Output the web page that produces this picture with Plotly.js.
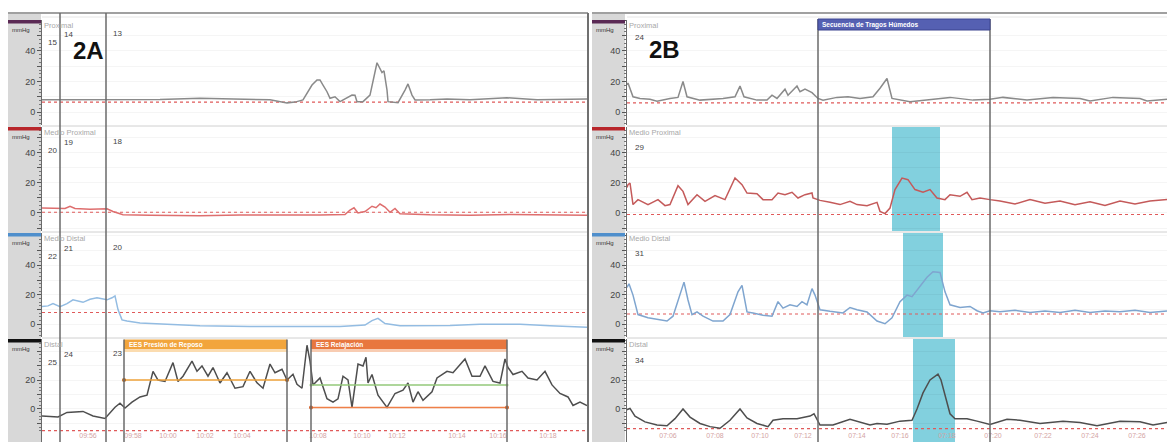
<!DOCTYPE html>
<html><head><meta charset="utf-8">
<script src="https://cdn.plot.ly/plotly-3.0.1.min.js"></script>
<style>html,body{margin:0;padding:0;background:#fff;overflow:hidden}#chart{width:1167px;height:442px}</style>
</head><body><div id="chart"></div>
<script>
// ---------- DATA (time in 0.1 s from left edge of each panel, pressure in mmHg) ----------
const channelNames = ['Proximal','Medio Proximal','Medio Distal','Distal'];

// Panel 2A
const tA_prox = [0,38,78,118,158,198,228,245,253,261,270,275,278,281,285,288,293,298,305,310,313,315,321,328,335,340,342,345,346,356,363,366,370,373,388,405,428,448,465,495,518,545];
const pA_prox = [8,8,7.8,8.2,9,8.5,8,6,6.5,7.9,17.7,21,21,17.7,13.3,9,10,6.8,9,11.1,11,6.8,6.8,11.1,32.3,25.8,27,14.4,6.8,6.1,14.4,18.4,11.1,7.9,8,8.5,8,8.5,9.4,8,8.2,8.5];
const tA_mprox = [0,13,23,28,33,48,65,71,81,108,158,198,238,278,303,308,312,316,323,330,334,338,343,348,353,358,388,428,468,508,545];
const pA_mprox = [3.4,3,3,4.5,3,2.5,2.8,1,-1.2,-1.5,-1.8,-1.3,-1.5,-1.3,-1,2,3.5,0,1,4.5,3.5,6,4,0.5,3,-0.5,-1.2,-1.5,-1,-1.2,-1.5];
const tA_mdist = [0,6,11,18,25,31,41,48,55,65,70,73,76,80,85,98,125,158,208,258,298,323,330,336,343,358,408,438,478,508,545];
const pA_mdist = [12,12.5,14,12,14,16.6,14.9,17,18,16.6,18,19.3,10,3,2.2,0.9,0,-1,-1.5,-1.5,-1.5,-0.5,2.5,4,0.5,-1,-0.8,0,0,-1,-2];
const tA_dist = [0,16,25,41,51,63,73,78,83,90,98,105,111,116,123,131,136,141,150,155,160,166,171,178,185,193,201,208,215,221,228,233,240,245,251,255,260,265,268,271,278,285,291,296,301,306,310,316,321,324,326,330,336,345,353,361,366,371,376,381,390,395,405,411,423,430,438,443,451,458,463,466,471,480,486,495,503,510,518,526,531,538,545];
const pA_dist = [-4.8,-5.5,-2.4,-1.7,-4.8,-6.5,1.2,4,0.7,4.7,8.3,9.5,26,20,19,32,19,22.6,33,26,29.7,22.6,28.6,17.9,25,14.3,15.4,26,18,14.3,31,25,27.4,20,24,17,14.3,44,33,16.6,21.4,7.1,4.7,7,22.6,20,1.1,31,29.7,35.7,17.9,23.8,9.5,1.1,10.7,13,17.9,4.7,11.9,6,11.9,21.4,26,25,34.5,22.6,22.6,29.7,19,17.9,34.5,28.6,23.8,26,21.4,20,26,16.6,10.7,8.3,2.4,4.7,2.4];
const refA = [6.5, 0.5, 8, -15];
const eventsA = [18, 64];
const eventNumsA = [['15','14','13'],['20','19','18'],['22','21','20'],['25','24','23']];
const restA = {t0:82, t1:245, level:20, label:'EES Presión de Reposo'};
const relaxA = {t0:269, t1:465, upper:16.6, lower:1, label:'EES Relajación'};
const tickValsA = [46,91,126,163,200,276,320,355,415,456,506];
const tickTextA = ['09:56','09:58','10:00','10:02','10:04','10:08','10:10','10:12','10:14','10:16','10:18'];

// Panel 2B
const tB_prox = [0,1,6,13,23,30,43,51,56,60,73,96,108,113,117,130,140,145,150,158,161,166,170,173,178,185,191,196,210,221,233,246,253,260,265,283,300,311,323,346,363,376,400,426,453,463,486,513,520,540];
const pB_prox = [17.8,19,10,8.9,8.3,7.1,8.9,9.6,20,10,7.8,8.9,10,17,10,7.8,7.8,11,8.9,15,11,14.5,17,13.3,15,12.7,8.9,7.8,9.6,10,8.9,10,15.6,22,8.9,6.7,7.8,8.9,9.6,7.8,8.3,9.6,7.8,9.6,8.9,7.3,9.6,8.9,7.3,8.3];
const tB_mprox = [0,1,3,6,11,21,31,38,43,51,56,61,70,78,88,98,108,115,120,130,136,145,151,158,165,171,178,185,186,193,203,213,223,230,240,250,253,258,263,268,275,281,288,296,303,310,318,323,333,340,345,353,363,373,388,403,418,433,448,463,478,493,508,523,540];
const pB_mprox = [17,18.9,20,5.6,8.9,5.6,8.9,4.9,5.6,18.2,14.4,5.6,12.2,7.8,11.6,8.9,23.3,18.9,13.3,12.9,8.9,8.9,13.3,12.2,13.8,10,12.2,13.3,10,8.4,7.1,5.6,7.8,5.6,4.9,7.1,1.1,-0.4,3.3,15.6,23.3,22.2,15.6,13.8,15.6,10,8.9,12.2,11.1,13.8,8.9,10,8.9,8,6,9,6.5,8,5.5,7.5,5,8,6,8,9];
const tB_mdist = [0,2,6,11,21,31,40,46,53,57,61,65,70,76,86,96,103,111,115,120,126,136,145,151,156,163,170,175,180,185,188,193,203,216,223,230,240,250,258,265,273,280,285,291,300,306,313,318,323,333,343,350,356,363,373,388,403,418,433,448,463,478,493,508,523,540];
const pB_mdist = [25,27.5,19.8,6.6,4.4,3.3,2.2,5.5,19.8,28.6,16.5,6.6,8.4,5.5,2.2,2.2,6.6,22,26.4,8.4,7.7,6.2,5.5,15.4,11,13.2,12.1,15.4,13.2,24.2,19.8,9.9,8.8,7.7,11.4,9.9,8.4,2.2,0.4,4.4,15.4,19.8,18.7,24.2,31.9,35.6,35.2,22,13.2,11.4,12.1,9.2,7.7,9.2,8.5,9.5,8,9,8,9.5,8,9,8.5,9.5,8,9];
const tB_dist = [0,3,8,18,30,40,48,56,63,73,83,93,103,113,120,130,141,146,156,170,183,187,193,206,223,233,243,250,260,273,285,290,296,303,308,311,314,318,323,328,340,350,363,380,393,413,436,453,470,493,513,526,540];
const pB_dist = [-0.5,0.4,-4.9,-8.9,-11.1,-11.6,-6.7,0,-5.6,-10,-12.2,-13.3,-7.8,0,-6.2,-10,-12.2,-7.8,-6.7,-6.7,-4.9,-3.3,-11.1,-11.1,-7.1,-9.3,-11.1,-10,-10.5,-8.4,-7.8,0,11.1,20,22.2,24,20,8.9,-3.3,-6.7,-6.7,-8.4,-10.7,-7.1,-7.8,-10,-8.4,-9.3,-11.6,-8.4,-8.9,-11.1,-9.3];
const refB = [6, -1, 7, -13.5];
const eventsB = [191, 363];
const eventNumsB = ['24','29','31','34'];
const seqB = {t0:191, t1:363, label:'Secuencia de Tragos Húmedos'};
const cyanB = [null, [265,313], [276,316], [286,328]];
const tickValsB = [41,88,133,176,230,273,320,366,416,463,510];
const tickTextB = ['07:06','07:08','07:10','07:12','07:14','07:16','07:18','07:20','07:22','07:24','07:26'];

// ---------- LAYOUT GEOMETRY ----------
const W=1167, H=442;
const px=p=>p/W, py=p=>1-p/H;
const rowsPx=[[20,125],[127,231],[233,337],[339,442]];
const yRanges=[[-8.5,60.3],[-12,57.3],[-8.6,61.9],[-22.8,48.3]];
const colA=[42,587], colB=[627,1167];
const rangeA=[0,545], rangeB=[0,540];
const lineColA=['#8a8a8a','#de6e6e','#93bce2','#4e4e4e'];
const lineColB=['#8a8a8a','#c45a5a','#7fa5cf','#4e4e4e'];
const bandCol=['#5b2a55','#b8262b','#4f8fcc','#111111'];
const FONT='Liberation Sans, Arial, sans-serif';

const seriesA=[[tA_prox,pA_prox],[tA_mprox,pA_mprox],[tA_mdist,pA_mdist],[tA_dist,pA_dist]];
const seriesB=[[tB_prox,pB_prox],[tB_mprox,pB_mprox],[tB_mdist,pB_mdist],[tB_dist,pB_dist]];

const traces=[], shapes=[], annotations=[];
const layout={width:W,height:H,margin:{l:0,r:0,t:0,b:0},paper_bgcolor:'#fff',plot_bgcolor:'rgba(0,0,0,0)',
  showlegend:false,font:{family:FONT},shapes,annotations};

function ax(n){return n===1?'':String(n);}

for(let side=0; side<2; side++){
  const col= side===0?colA:colB, rng= side===0?rangeA:rangeB;
  const series= side===0?seriesA:seriesB, lc= side===0?lineColA:lineColB;
  const refs= side===0?refA:refB;
  for(let r=0;r<4;r++){
    const n= side*4+r+1, a=ax(n);
    const showVals= r===3?[-20,0,20]:[0,20,40];
    const tv=[-20,-10,0,10,20,30,40,50,60];
    layout['xaxis'+a]={domain:[px(col[0]),px(col[1])],range:rng,anchor:'y'+a,showgrid:false,zeroline:false,
      showline:false,ticks:'',showticklabels:false,fixedrange:true};
    layout['yaxis'+a]={domain:[py(rowsPx[r][1]),py(rowsPx[r][0])],range:yRanges[r],anchor:'x'+a,
      tickmode:'array',tickvals:tv,ticktext:tv.map(v=>showVals.includes(v)?String(v):''),
      ticks:'outside',ticklen:4,tickcolor:'#555',tickwidth:1,
      tickfont:{size:9,color:'#444',family:FONT},
      showgrid:true,gridcolor:'rgba(0,0,0,0.04)',zeroline:false,showline:true,linecolor:'#6a6a6a',linewidth:1,
      minor:{tickmode:'linear',tick0:0,dtick:2.5,ticks:'outside',ticklen:2,tickcolor:'#777',showgrid:false},
      fixedrange:true};
    if(r===3){
      const xa=layout['xaxis'+a];
      xa.showticklabels=true; xa.tickmode='array';
      xa.tickvals= side===0?tickValsA:tickValsB;
      xa.ticktext= side===0?tickTextA:tickTextB;
      xa.ticklabelposition='inside';
      xa.tickfont={size:7,color:'#d4a4a4',family:FONT};
    }
    traces.push({x:[rng[0],rng[1]],y:[refs[r],refs[r]],xaxis:'x'+a,yaxis:'y'+a,mode:'lines',
      line:{color:'#e05a5a',width:1.2,dash:'dot'},hoverinfo:'skip'});
    traces.push({x:series[r][0],y:series[r][1],xaxis:'x'+a,yaxis:'y'+a,mode:'lines',
      line:{color:lc[r],width:1.5},hoverinfo:'skip'});
    annotations.push({xref:'paper',yref:'paper',x:px(col[0]+1),y:py(rowsPx[r][0]),xanchor:'left',yanchor:'top',
      text:channelNames[r],showarrow:false,font:{size:7.5,color:'#a8a8a8'},borderpad:0});
  }
}

// cyan swallow windows (panel B) - below traces
cyanB.forEach((c,r)=>{
  if(!c) return; const a=ax(5+r);
  shapes.push({type:'rect',xref:'x'+a,yref:'paper',x0:c[0],x1:c[1],y0:py(rowsPx[r][1]),y1:py(rowsPx[r][0]),
    fillcolor:'#82d0de',line:{width:0},layer:'below'});
});

// grey strips, bands
[[8,41],[592,625]].forEach((s,i)=>{
  shapes.push({type:'rect',xref:'paper',yref:'paper',x0:px(s[0]),x1:px(s[1]),y0:0,y1:py(13),fillcolor:'#d8d8d8',line:{width:0},layer:'below'});
  rowsPx.forEach((rp,r)=>{
    shapes.push({type:'rect',xref:'paper',yref:'paper',x0:px(s[0]),x1:px(s[1]),y0:py(rp[0]+3.5),y1:py(rp[0]),fillcolor:bandCol[r],line:{width:0}});
    annotations.push({xref:'paper',yref:'paper',x:px(s[0]+2),y:py(rp[0]+5),xanchor:'left',yanchor:'top',
      text:'mmHg',showarrow:false,font:{size:6,color:'#333'}});
  });
});
// panel top borders
shapes.push({type:'line',xref:'paper',yref:'paper',x0:px(8),x1:px(588),y0:py(13),y1:py(13),line:{color:'#a0a0a0',width:2}});
shapes.push({type:'line',xref:'paper',yref:'paper',x0:px(592),x1:1,y0:py(13),y1:py(13),line:{color:'#a0a0a0',width:2}});
shapes.push({type:'line',xref:'paper',yref:'paper',x0:px(42),x1:px(587),y0:py(17),y1:py(17),line:{color:'#e6e6e6',width:1}});
shapes.push({type:'line',xref:'paper',yref:'paper',x0:px(627),x1:1,y0:py(17),y1:py(17),line:{color:'#e6e6e6',width:1}});
// left panel right border
shapes.push({type:'line',xref:'paper',yref:'paper',x0:px(588),x1:px(588),y0:0,y1:py(13),line:{color:'#707070',width:2}});
// row separators
[126,232,338].forEach(y=>{
  shapes.push({type:'line',xref:'paper',yref:'paper',x0:px(42),x1:px(587),y0:py(y),y1:py(y),line:{color:'#d0d0d0',width:1}});
  shapes.push({type:'line',xref:'paper',yref:'paper',x0:px(627),x1:1,y0:py(y),y1:py(y),line:{color:'#d0d0d0',width:1}});
});

// event lines
eventsA.forEach(t=>shapes.push({type:'line',xref:'x4',yref:'paper',x0:t,x1:t,y0:0,y1:py(13),line:{color:'#6a6a6a',width:1.5}}));
eventsB.forEach(t=>shapes.push({type:'line',xref:'x8',yref:'paper',x0:t,x1:t,y0:0,y1:py(19),line:{color:'#6a6a6a',width:1.5}}));

// sequence header (B)
shapes.push({type:'rect',xref:'x5',yref:'paper',x0:seqB.t0,x1:seqB.t1,y0:py(30),y1:py(19),fillcolor:'#5560b2',line:{color:'#3d4590',width:1}});
annotations.push({xref:'x5',yref:'paper',x:seqB.t0,y:py(24.5),xanchor:'left',yanchor:'middle',xshift:2,
  text:'<b>'+seqB.label+'</b>',showarrow:false,font:{size:6.5,color:'#fff'}});

// LES boxes (A, Distal row)
[[restA,'#f2a53c','#fbdcb0'],[relaxA,'#e8773e','#f8ccb2']].forEach(([b,c1,c2])=>{
  shapes.push({type:'rect',xref:'x4',yref:'paper',x0:b.t0,x1:b.t1,y0:py(349),y1:py(339.5),fillcolor:c1,line:{width:0}});
  shapes.push({type:'rect',xref:'x4',yref:'paper',x0:b.t0,x1:b.t1,y0:py(352),y1:py(349),fillcolor:c2,line:{width:0}});
  shapes.push({type:'line',xref:'x4',yref:'paper',x0:b.t0,x1:b.t0,y0:0,y1:py(339.5),line:{color:'#6a6a6a',width:1.5}});
  shapes.push({type:'line',xref:'x4',yref:'paper',x0:b.t1,x1:b.t1,y0:0,y1:py(339.5),line:{color:'#6a6a6a',width:1.5}});
  annotations.push({xref:'x4',yref:'paper',x:b.t0,y:py(344.5),xanchor:'left',yanchor:'middle',xshift:3,
    text:'<b>'+b.label+'</b>',showarrow:false,font:{size:6.5,color:'#fff'}});
});
traces.push({x:[restA.t0,restA.t1],y:[restA.level,restA.level],xaxis:'x4',yaxis:'y4',mode:'lines+markers',
  line:{color:'#eea23a',width:1.5},marker:{size:4,color:'#b5651d'},hoverinfo:'skip'});
traces.push({x:[relaxA.t0,relaxA.t1],y:[relaxA.upper,relaxA.upper],xaxis:'x4',yaxis:'y4',mode:'lines+markers',
  line:{color:'#93c97a',width:1.5},marker:{size:3,color:'#93c97a'},hoverinfo:'skip'});
traces.push({x:[relaxA.t0,relaxA.t1],y:[relaxA.lower,relaxA.lower],xaxis:'x4',yaxis:'y4',mode:'lines+markers',
  line:{color:'#ef8048',width:1.5},marker:{size:4,color:'#d0602a'},hoverinfo:'skip'});

// event numbers
const numPosA=[[52,6],[68,-2],[117,-3]];
eventNumsA.forEach((row,r)=>{
  row.forEach((s,k)=>{
    annotations.push({xref:'paper',yref:'paper',x:px(numPosA[k][0]),y:py(rowsPx[r][0]+17+numPosA[k][1]),
      xanchor:'center',yanchor:'middle',text:s,showarrow:false,font:{size:8,color:'#444'},borderpad:0});
  });
});
eventNumsB.forEach((s,r)=>{
  annotations.push({xref:'paper',yref:'paper',x:px(639),y:py(rowsPx[r][0]+(r===0?17:21)),
    xanchor:'center',yanchor:'middle',text:s,showarrow:false,font:{size:8,color:'#444'}});
});

// panel letters
annotations.push({xref:'paper',yref:'paper',x:px(88),y:py(50.5),xanchor:'center',yanchor:'middle',text:'<b>2A</b>',showarrow:false,font:{size:24,color:'#111'}});
annotations.push({xref:'paper',yref:'paper',x:px(664),y:py(49),xanchor:'center',yanchor:'middle',text:'<b>2B</b>',showarrow:false,font:{size:24,color:'#111'}});

Plotly.newPlot('chart',traces,layout,{staticPlot:true,displayModeBar:false});
</script></body></html>
